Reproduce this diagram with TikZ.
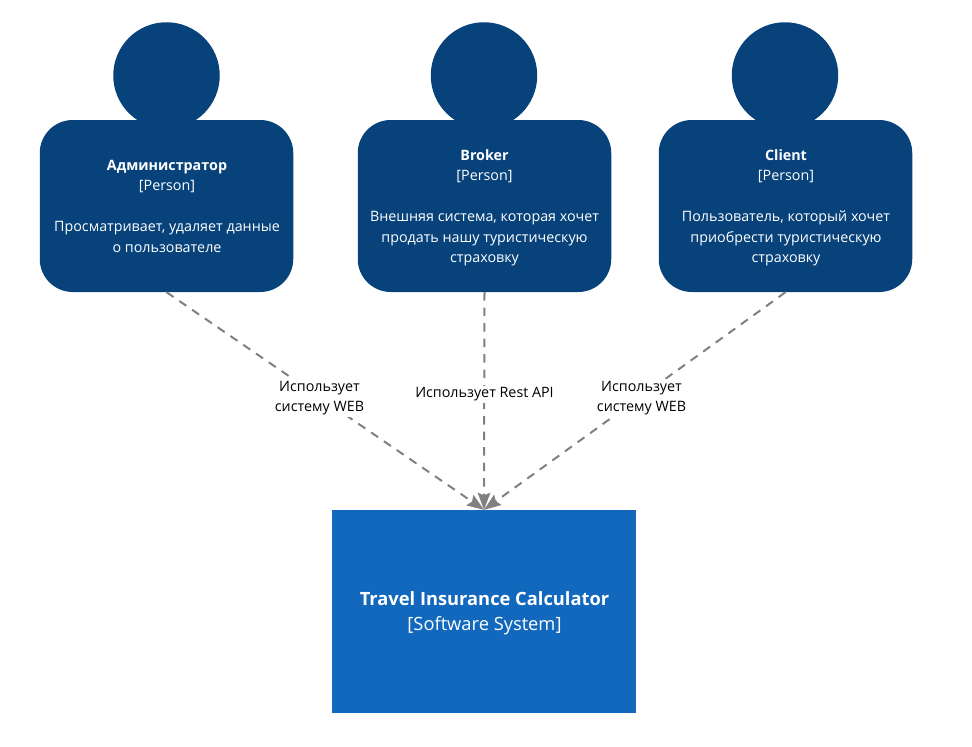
\documentclass[tikz,border=0pt]{standalone}
\usepackage{fontspec}
\setmainfont{Open Sans}
\usetikzlibrary{arrows.meta}
\definecolor{persondark}{HTML}{08427B}
\definecolor{sysblue}{HTML}{1168BD}
\definecolor{linegrey}{HTML}{808080}
\tikzset{
  x=1pt,y=-1pt,
  personbody/.style={fill=persondark,draw=none,rounded corners=33pt,minimum width=253.5pt,minimum height=172pt,inner sep=0pt},
  persontext/.style={text=white,align=center,inner sep=0pt,font=\fontsize{14.3}{20.5}\selectfont},
  personhead/.style={circle,fill=persondark,draw=none,minimum size=106.5pt,inner sep=0pt},
  sysbox/.style={fill=sysblue,draw=none,minimum width=304pt,minimum height=203pt,inner sep=0pt},
  systext/.style={text=white,align=center,inner sep=0pt,font=\fontsize{18.3}{25}\selectfont},
  rel/.style={draw=linegrey,line width=2pt,dash pattern=on 8.5pt off 7pt,-{Stealth[length=17pt,width=12.5pt,inset=2.5pt]}},
  rellabel/.style={fill=white,inner sep=2pt,align=center,text=black,font=\fontsize{14.3}{20.5}\selectfont},
}
\begin{document}
\begin{tikzpicture}
\useasboundingbox (0,0) rectangle (972,747);
\node[personhead] (h1) at (166.5,75.5) {};
\node[personhead] (h2) at (484,75.5) {};
\node[personhead] (h3) at (785,75.5) {};
\node[personbody] (admin) at (166.5,206) {};
\node[personbody] (broker) at (484.5,206) {};
\node[personbody] (client) at (785.5,206) {};
\node[persontext] (admintext) at (167,206) {\textbf{Администратор}\\{}[Person]\\[20.5pt]Просматривает, удаляет данные\\о пользователе};
\node[persontext] (brokertext) at (484.5,208) {\textbf{Broker}\\{}[Person]\\[20.5pt]Внешняя система, которая хочет\\продать нашу туристическую\\страховку};
\node[persontext] (clienttext) at (786,208) {\textbf{Client}\\{}[Person]\\[20.5pt]Пользователь, который хочет\\приобрести туристическую\\страховку};
\node[sysbox] (sys) at (484,611.5) {};
\node[systext] (systext) at (484.5,613) {\textbf{Travel Insurance Calculator}\\{}[Software System]};
\draw[rel] (admin.south) -- (sys.north);
\draw[rel] (broker.south) -- (sys.north);
\draw[rel] (client.south) -- (sys.north);
\node[rellabel] (l1) at (319.5,398) {Использует\\систему WEB};
\node[rellabel] (l2) at (484.5,394.5) {Использует Rest API};
\node[rellabel] (l3) at (641.5,398) {Использует\\систему WEB};
\end{tikzpicture}
\end{document}
